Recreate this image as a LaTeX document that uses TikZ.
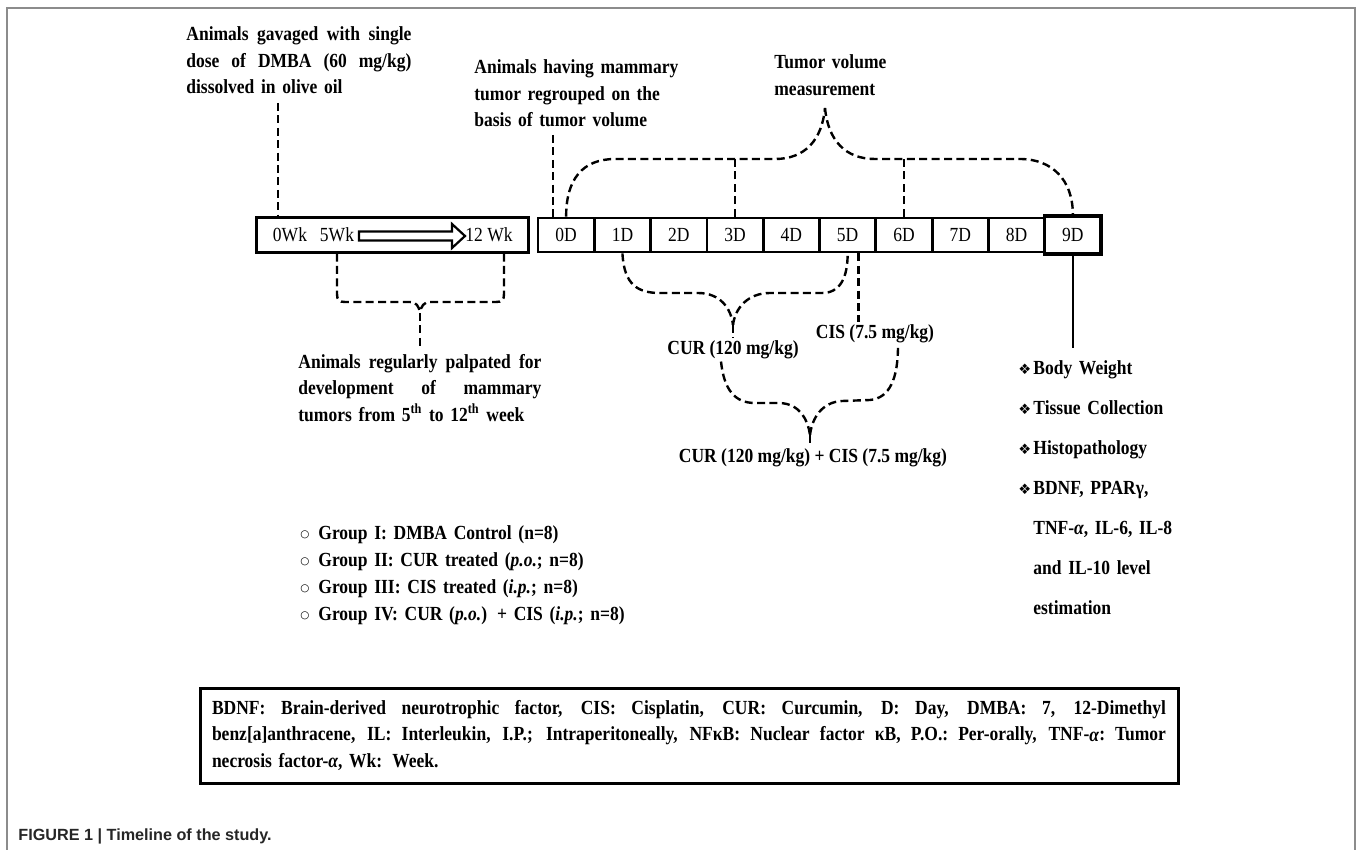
\documentclass[tikz,border=0pt]{standalone}
\usepackage{fontspec}
\setmainfont{Liberation Serif}[FakeStretch=0.875]
\newfontfamily\symf{DejaVu Sans}
\newfontfamily\capf{Liberation Sans}
\newcommand\bul{\makebox[7.5pt][l]{\symf\mdseries\fontsize{7.2}{7}\selectfont ❖}}
\newcommand\gbul{\makebox[9pt][l]{\raisebox{0.6pt}{\symf\mdseries\fontsize{5.2}{5}\selectfont ○}}}
\newcommand\jl[2]{\leavevmode\hbox to #1{\spaceskip=\fontdimen2\font plus 1fil\relax #2}}
\begin{document}
\begin{tikzpicture}[x=0.5pt,y=-0.5pt]
\tikzset{
 lbl/.style={font=\fontsize{10}{13.25}\selectfont, inner sep=0pt},
 blbl/.style={font=\fontsize{10}{13.25}\selectfont\bfseries, inner sep=0pt},
 cell/.style={draw, line width=1.4pt, minimum width=28.15pt, minimum height=17pt, inner sep=0pt, font=\fontsize{10}{12}\selectfont},
 dashln/.style={line width=1.2pt, dash pattern=on 4pt off 2.2pt},
 frameln/.style={draw=black!45, line width=1pt}
}
\useasboundingbox (0,0) rectangle (1358,850);
% outer frame
\draw[frameln] (7,850) -- (7,8) -- (1355,8) -- (1355,850);

% week box
\node[draw, line width=1.5pt, minimum width=136pt, minimum height=17pt, inner sep=0pt] (wkbox) at (392,235) {};
\node[lbl] (w0) at (290,235) {0Wk};
\node[lbl] (w5) at (337,235) {5Wk};
\node[lbl] (w12) at (489,235) {12 Wk};
\draw[line width=1.1pt, fill=white, line join=miter] (359,231.5) -- (452,231.5) -- (452,224) -- (465,236) -- (452,248) -- (452,240.5) -- (359,240.5) -- cycle;

% day cells
\foreach \i in {0,...,8} { \node[cell] (d\i) at ({566.15+56.3*\i},235) {\i D}; }
\node[cell, line width=1.6pt, minimum height=19pt] (d9) at (1072.85,235) {9D};

% annotations
\node[blbl, text width=112.5pt, align=left, anchor=base west] (ann1) at (186,41)
 {\jl{112.5pt}{Animals gavaged with single}\\ \jl{112.5pt}{dose of DMBA (60 mg/kg)}\\ dissolved in olive oil};
\node[blbl, text width=110pt, align=left, anchor=base west] (ann2) at (474,74)
 {Animals having mammary\\ tumor regrouped on the\\ basis of tumor volume};
\node[blbl, text width=60pt, align=left, anchor=base west] (ann3) at (774,69)
 {Tumor volume\\ measurement};
\node[blbl, text width=121.5pt, align=left, anchor=base west] (ann4) at (298,368)
 {\jl{121.5pt}{Animals regularly palpated for}\\ \jl{121.5pt}{development of mammary}\\ tumors from 5\textsuperscript{th} to 12\textsuperscript{th} week};

\node[blbl, inner sep=1pt] (cur) at (733,350) {CUR (120 mg/kg)};
\node[blbl, inner sep=1pt] (cis) at (875,334) {CIS (7.5 mg/kg)};
\node[blbl, inner sep=1pt] (combo) at (813,458) {CUR (120 mg/kg) + CIS (7.5 mg/kg)};

\node[font=\fontsize{10}{13.5}\selectfont\bfseries, inner sep=0pt, text width=170pt, align=left, anchor=base west] (groups) at (300,539)
 {\gbul Group I: DMBA Control (n=8)\\
  \gbul Group II: CUR treated (\textit{p.o.}; n=8)\\
  \gbul Group III: CIS treated (\textit{i.p.}; n=8)\\
  \gbul Group IV: CUR (\textit{p.o.}) + CIS (\textit{i.p.}; n=8)};

\node[font=\fontsize{10}{20}\selectfont\bfseries, inner sep=0pt, text width=100pt, align=left, anchor=base west] (list) at (1018,374)
 {\bul Body Weight\\
  \bul Tissue Collection\\
  \bul Histopathology\\
  \bul BDNF, PPARγ,\\
  \hspace*{7.5pt}TNF-\textit{α}, IL-6, IL-8\\
  \hspace*{7.5pt}and IL-10 level\\
  \hspace*{7.5pt}estimation};

\node[draw, line width=1.5pt, text width=477pt, inner xsep=6pt, minimum height=47.5pt, font=\fontsize{10}{13.25}\selectfont\bfseries, align=left] (abbr) at (689,735.5)
 {\jl{477pt}{BDNF: Brain-derived neurotrophic factor, CIS: Cisplatin, CUR: Curcumin, D: Day, DMBA: 7, 12-Dimethyl}\\
  \jl{477pt}{benz[a]anthracene, IL: Interleukin, I.P.; Intraperitoneally, NFκB: Nuclear factor κB, P.O.: Per-orally, TNF-\textit{α}: Tumor}\\
  necrosis factor-\textit{α}, Wk: Week.};

\node[font=\capf\fontsize{8.1}{9}\selectfont\bfseries, text=black!85, inner sep=0pt, anchor=base west] (cap) at (18,840) {FIGURE 1 | Timeline of the study.};

% helper coordinates
\coordinate (a1) at (278,103);
\coordinate (a2) at (553,135);
\coordinate (hz) at (0,159);
\coordinate (tv) at (825,108);
\coordinate (c12) at (504,0);
\coordinate (pt) at (420,313);
\coordinate (pe) at (420,347);
\coordinate (ct) at (733,325);
\coordinate (lx1) at (721,0);
\coordinate (lx2) at (898,0);
\coordinate (lt) at (810,435);
\coordinate (lend) at (0,348);

% connectors
\draw[dashln] (a1) -- (a1 |- wkbox.north);
\draw[dashln] (a2) -- (a2 |- d0.north);
\draw[dashln] (d0.north) .. controls (566,180) and (582,159) .. (615,159) -- (775,159) .. controls (805,159) and (822,140) .. (tv);
\draw[dashln] (tv) .. controls (828,140) and (845,159) .. (875,159) -- (1020,159) .. controls (1052,159) and (1072.85,180) .. (d9.north);
\draw[dashln] (d3.north) -- (d3.north |- hz);
\draw[dashln] (d6.north) -- (d6.north |- hz);

\draw[dashln] (w5 |- wkbox.south) -- (337,294) .. controls (337,300) and (339,302) .. (345,302) -- (410,302) .. controls (416,302) and (419,306) .. (pt);
\draw[dashln] (c12 |- wkbox.south) -- (504,294) .. controls (504,300) and (502,302) .. (496,302) -- (430,302) .. controls (424,302) and (421,306) .. (pt);
\draw[dashln] (pt) -- (pe);

\draw[dashln] (d1.south) .. controls (624,285) and (638,293) .. (660,293) -- (698,293) .. controls (720,293) and (731,308) .. (ct);
\draw[dashln] (ct) .. controls (735,308) and (748,293) .. (770,293) -- (822,293) .. controls (840,293) and (847.65,278) .. (d5.south);
\draw[dashln] (ct) -- (ct |- cur.north);
\draw[dashln] ([xshift=5.5pt]d5.south) -- ([xshift=5.5pt]d5.south |- cis.north);

\draw[dashln] (cur.south -| lx1) .. controls (724,390) and (735,403) .. (755,403) -- (780,403) .. controls (800,404) and (808,420) .. (lt);
\draw[dashln] (lt) .. controls (812,418) and (822,402) .. (842,401) -- (870,400) .. controls (890,398) and (898,378) .. (cis.south -| lx2);
\draw[dashln] (lt) -- (lt |- combo.north);

\draw[line width=1pt] (d9.south) -- (d9.south |- lend);
\end{tikzpicture}
\end{document}
